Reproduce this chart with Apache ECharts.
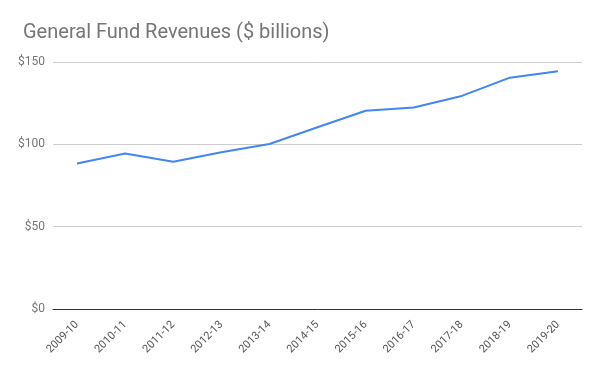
<!DOCTYPE html>
<html><head><meta charset="utf-8">
<script src="https://cdn.jsdelivr.net/npm/echarts@6/dist/echarts.min.js"></script>
<style>html,body{margin:0;padding:0;background:#fff}#c{width:600px;height:371px}</style>
</head><body><div id="c"></div>
<script>
var categories = ['2009-10','2010-11','2011-12','2012-13','2013-14','2014-15','2015-16','2016-17','2017-18','2018-19','2019-20'];
var revenues = [88.4, 94.4, 89.4, 95.2, 100.2, 110.4, 120.4, 122.4, 129.4, 140.5, 144.4];
var yTicks = [0, 50, 100, 150];
var chart = echarts.init(document.getElementById('c'));
chart.setOption({
  animation: false,
  title: { text: 'General Fund Revenues ($ billions)', left: 18, top: 18,
    textStyle: { fontFamily: 'Roboto', fontSize: 20, fontWeight: 'normal', color: '#757575' } },
  grid: { left: 53, right: 18, top: 62, bottom: 62 },
  xAxis: { type: 'category', data: categories, boundaryGap: true,
    axisLine: { lineStyle: { color: '#333', width: 1 } },
    axisTick: { show: false },
    axisLabel: { rotate: 45, fontFamily: 'Roboto', fontSize: 11, color: '#555', margin: 14, interval: 0 } },
  yAxis: { type: 'value', min: yTicks[0], max: yTicks[yTicks.length-1], interval: 50,
    axisLine: { show: false }, axisTick: { show: false },
    splitLine: { lineStyle: { color: '#cccccc' } },
    axisLabel: { fontFamily: 'Roboto', fontSize: 12, color: '#757575', margin: 8,
      formatter: function(v){ return '$' + v; } } },
  series: [{ type: 'line', data: revenues, symbol: 'none',
    lineStyle: { color: '#4285F4', width: 2 } }]
});
</script></body></html>
